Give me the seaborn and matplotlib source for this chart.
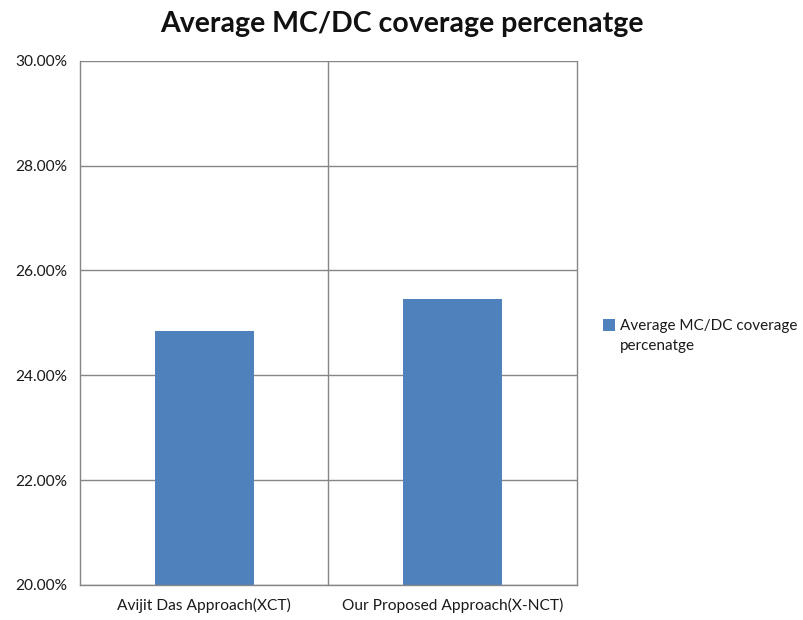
import matplotlib
matplotlib.use("Agg")
import matplotlib.pyplot as plt
import seaborn as sns
from matplotlib.ticker import FuncFormatter, FixedLocator

categories = ["Avijit Das Approach(XCT)", "Our Proposed Approach(X-NCT)"]
coverage = [24.84, 25.45]
series_name = "Average MC/DC coverage\npercenatge"
title = "Average MC/DC coverage percenatge"

sns.set_theme(style="white")
plt.rcParams["font.family"] = ["Lato", "DejaVu Sans"]

grid_c = "#868686"
bar_c = "#4F81BD"

fig = plt.figure(figsize=(8.04, 6.2), dpi=100)
ax = fig.add_axes([0.0995, 0.0565, 0.618, 0.8455])

sns.barplot(x=categories, y=coverage, color=bar_c, width=0.4, ax=ax,
            saturation=1, linewidth=0)

ax.set_ylim(20, 30)
ax.set_xlim(-0.5, 1.5)
ax.set_yticks([20, 22, 24, 26, 28, 30])
ax.yaxis.set_major_formatter(FuncFormatter(lambda v, p: f"{v:.2f}%"))
ax.yaxis.grid(True, color=grid_c, linewidth=1)
ax.set_axisbelow(True)

# category boundaries carry tick marks and a vertical divider
ax.xaxis.set_minor_locator(FixedLocator([-0.5, 0.5, 1.5]))
ax.tick_params(axis="x", which="major", length=0, pad=9, labelsize=11.2, colors="#1a1a1a")
ax.tick_params(axis="x", which="minor", length=6, width=1, color=grid_c, direction="out")
ax.tick_params(axis="y", length=6, width=1, color=grid_c, direction="out",
               labelsize=11.2, labelcolor="#1a1a1a", pad=3)
ax.axvline(0.5, color=grid_c, linewidth=1, zorder=0)

for side in ["left", "right", "bottom"]:
    ax.spines[side].set_visible(True)
    ax.spines[side].set_color(grid_c)
    ax.spines[side].set_linewidth(1)
ax.spines["top"].set_visible(False)
ax.set_xlabel("")
ax.set_ylabel("")

leg = ax.legend(handles=[ax.patches[0]], labels=[series_name], loc="center left",
                bbox_to_anchor=(1.025, 0.475), frameon=False, fontsize=11,
                handlelength=0.75, handleheight=0.75, handletextpad=0.35)
leg.get_texts()[0].set_linespacing(1.6)
leg.get_texts()[0].set_color("#1a1a1a")
# align the swatch with the first line of the label
swatch = leg.legend_handles[0]
swatch.set_y(swatch.get_y() + 8)

fig.text(0.5, 0.962, title, ha="center", va="center", fontsize=20.5, fontweight="bold",
         color="#111111")

fig.savefig("out.png", dpi=100)
